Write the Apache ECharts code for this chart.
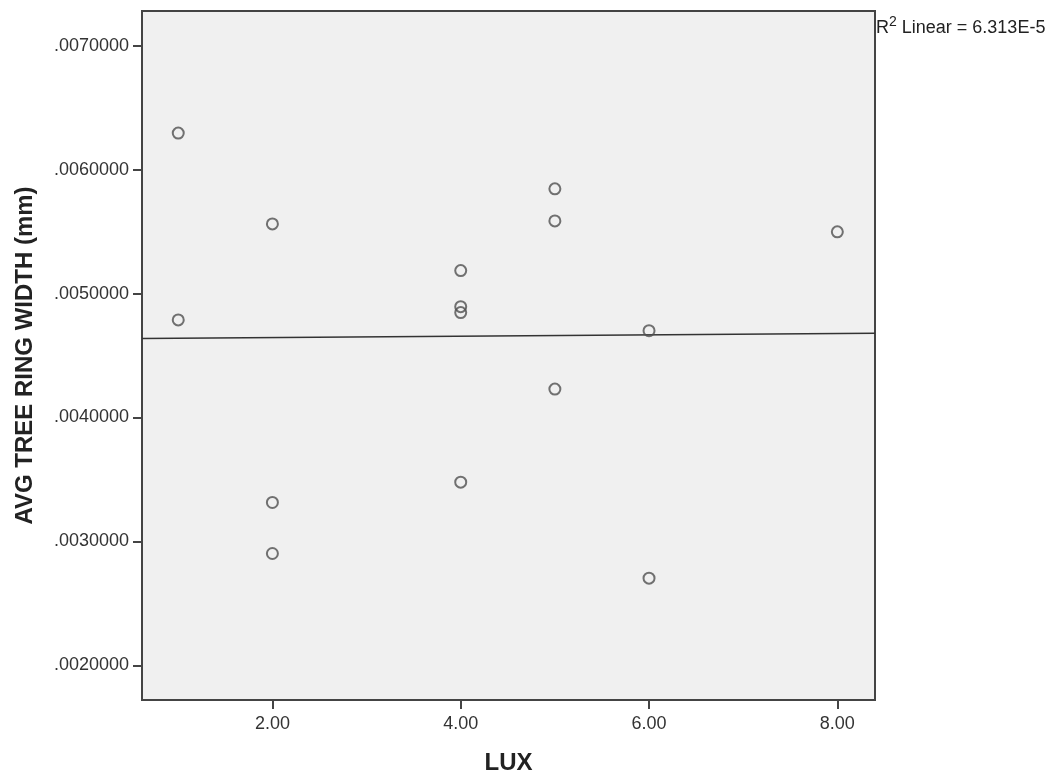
<!DOCTYPE html>
<html>
<head>
<meta charset="utf-8">
<title>AVG TREE RING WIDTH vs LUX</title>
<script src="https://cdn.jsdelivr.net/npm/echarts@6/dist/echarts.min.js"></script>
<style>
  html, body { margin: 0; padding: 0; background: #fff; }
  #chart { width: 1052px; height: 781px; }
</style>
</head>
<body>
<div id="chart"></div>
<script>
// Light level (LUX) for each sampled tree
const lux = [1, 1, 2, 2, 2, 4, 4, 4, 4, 5, 5, 5, 6, 6, 8];
// Average tree ring width (mm) for each sampled tree
const ringWidth = [
  0.006295, 0.004787,
  0.005562, 0.003314, 0.002902,
  0.005185, 0.004894, 0.004846, 0.003478,
  0.005845, 0.005586, 0.004229,
  0.004700, 0.002703,
  0.005498
];
// Tick values of both axes
const xTicks = [2, 4, 6, 8];
const yTicks = [0.002, 0.003, 0.004, 0.005, 0.006, 0.007];
const fitValue = '6.313E-5';

// Axis extents
const xMin = 0.615, xMax = 8.4;
const yMin = 0.00172, yMax = 0.00728;

// Ordinary least-squares fit of ring width on LUX
function linearFit(xs, ys) {
  const n = xs.length;
  const mx = xs.reduce((a, b) => a + b, 0) / n;
  const my = ys.reduce((a, b) => a + b, 0) / n;
  let sxy = 0, sxx = 0;
  for (let i = 0; i < n; i++) {
    sxy += (xs[i] - mx) * (ys[i] - my);
    sxx += (xs[i] - mx) * (xs[i] - mx);
  }
  const slope = sxy / sxx;
  return { slope, intercept: my - slope * mx };
}
const fit = linearFit(lux, ringWidth);
const fitLine = [xMin, xMax].map(x => [x, fit.intercept + fit.slope * x]);

const points = lux.map((x, i) => [x, ringWidth[i]]);

const FONT = '"Liberation Sans", Arial, sans-serif';
const AXIS_COLOR = '#444';

const chart = echarts.init(document.getElementById('chart'), null, { renderer: 'canvas' });
chart.setOption({
  animation: false,
  backgroundColor: '#fff',
  grid: {
    left: 142, top: 11, right: 177, bottom: 81,
    show: true,
    backgroundColor: '#f0f0f0',
    borderColor: AXIS_COLOR,
    borderWidth: 2
  },
  xAxis: {
    type: 'value',
    min: xMin, max: xMax,
    name: 'LUX',
    nameLocation: 'middle',
    nameGap: 51,
    nameTextStyle: { fontFamily: FONT, fontSize: 24, fontWeight: 'bold', color: '#222' },
    axisLine: { show: true, lineStyle: { color: AXIS_COLOR, width: 2 } },
    axisTick: { show: true, customValues: xTicks, length: 9, lineStyle: { color: AXIS_COLOR, width: 2 } },
    axisLabel: {
      customValues: xTicks,
      margin: 15,
      fontFamily: FONT, fontSize: 18, color: '#333',
      formatter: v => v.toFixed(2)
    },
    splitLine: { show: false }
  },
  yAxis: {
    type: 'value',
    min: yMin, max: yMax,
    name: 'AVG TREE RING WIDTH (mm)',
    nameLocation: 'middle',
    nameGap: 105,
    nameRotate: 90,
    nameTextStyle: { fontFamily: FONT, fontSize: 24, fontWeight: 'bold', color: '#222' },
    axisLine: { show: true, lineStyle: { color: AXIS_COLOR, width: 2 } },
    axisTick: { show: true, customValues: yTicks, length: 9, lineStyle: { color: AXIS_COLOR, width: 2 } },
    axisLabel: {
      customValues: yTicks,
      margin: 13,
      fontFamily: FONT, fontSize: 18, color: '#333',
      formatter: v => v.toFixed(7).replace(/^0/, '')
    },
    splitLine: { show: false }
  },
  series: [
    {
      name: 'Fit line',
      type: 'line',
      data: fitLine,
      symbol: 'none',
      silent: true,
      lineStyle: { color: '#333', width: 1.4 },
      z: 2
    },
    {
      name: 'Trees',
      type: 'scatter',
      data: points,
      symbol: 'circle',
      symbolSize: 11,
      itemStyle: { color: 'rgba(0,0,0,0)', borderColor: '#505050', borderWidth: 2 },
      emphasis: { disabled: true },
      z: 3
    }
  ],
  graphic: [
    {
      type: 'text',
      left: 876,
      top: 15,
      style: {
        text: '{r|R}{s|2}{r| Linear = ' + fitValue + '}',
        fontFamily: FONT,
        fill: '#222',
        rich: {
          r: { fontFamily: FONT, fontSize: 18, lineHeight: 22, verticalAlign: 'bottom', fill: '#222' },
          s: { fontFamily: FONT, fontSize: 14, lineHeight: 22, verticalAlign: 'top', fill: '#222' }
        }
      }
    }
  ]
});
</script>
</body>
</html>
